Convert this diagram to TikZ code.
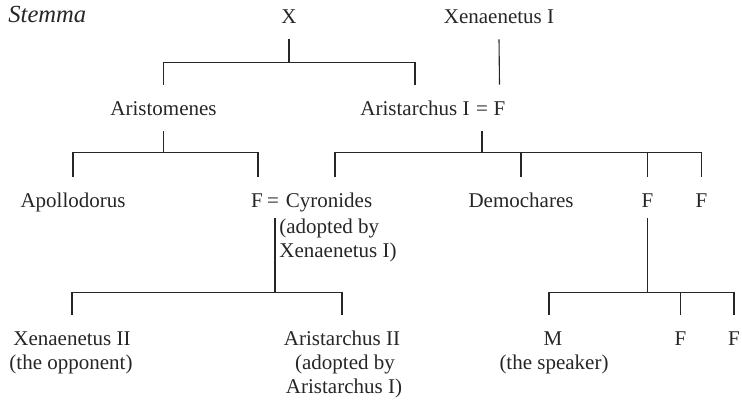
\documentclass[tikz,border=0pt]{standalone}
\usepackage{fontspec}
\setmainfont{Liberation Serif}
\begin{document}
\begin{tikzpicture}[x=0.5pt,y=-0.5pt,
  every node/.style={font=\fontsize{10.5}{12}\selectfont,text=black!85},
  person/.style={anchor=base,text height=7pt,text depth=0pt,inner xsep=0pt,inner ysep=8pt},
  note/.style={anchor=base,inner sep=0pt},
  kin/.style={draw=black!85,line width=0.55pt}]
  \useasboundingbox (0,0) rectangle (742,409);
  \node[anchor=base west,inner sep=0pt,font=\fontsize{12.3}{14}\selectfont\itshape] (stemma) at (8,22) {Stemma};
  % first two generations
  \node[person] (x) at (289,23) {X};
  \node[person] (xenI) at (499,23) {Xenaenetus I};
  \node[person] (aristomenes) at (163.5,115) {Aristomenes};
  \node[person] (ariI) at (415,115) {Aristarchus I};
  \node[person] (eqa) at (482,115) {=};
  \node[person] (fa) at (499.5,115) {F};
  % third generation
  \node[person] (apollodorus) at (73,207) {Apollodorus};
  \node[person] (fb) at (257,207) {F};
  \node[person] (eqb) at (273,207) {=};
  \node[person] (cyronides) at (329,207) {Cyronides};
  \node[note,anchor=base west] (cyrA) at (279,233) {(adopted by};
  \node[note,anchor=base west] (cyrB) at (279,257) {Xenaenetus I)};
  \node[person] (demochares) at (521,207) {Demochares};
  \node[person] (fc) at (647.5,207) {F};
  \node[person] (fd) at (701.5,207) {F};
  % fourth generation
  \node[person] (xenII) at (72,345) {Xenaenetus II};
  \node[note] (xenIIa) at (71,369) {(the opponent)};
  \node[person] (ariII) at (342,345) {Aristarchus II};
  \node[note] (ariIIa) at (345,369) {(adopted by};
  \node[note] (ariIIb) at (344,393) {Aristarchus I)};
  \node[person] (m) at (553,345) {M};
  \node[note] (ma) at (554,369) {(the speaker)};
  \node[person] (fe) at (680.5,345) {F};
  \node[person] (ff) at (734,345) {F};

  % descent lines
  \path (x.south) ++(0,23) coordinate (xjoin);
  \draw[kin] (x.south) -- (xjoin);
  \draw[kin] (aristomenes.north) |- (xjoin) -| (ariI.north);
  \draw[kin] (xenI.south) -- (fa.north);

  \path (aristomenes.south) ++(0,21) coordinate (amjoin);
  \draw[kin] (aristomenes.south) -- (amjoin);
  \draw[kin] (apollodorus.north) |- (amjoin) -| ([xshift=0.5pt]fb.north);

  \path (eqa.south) ++(0,21) coordinate (aijoin);
  \draw[kin] (eqa.south) -- (aijoin);
  \draw[kin] ([xshift=3pt]cyronides.north) |- (aijoin) -| (fd.north);
  \draw[kin] (demochares.north) -- (demochares.north |- aijoin);
  \draw[kin] (fc.north) -- (fc.north |- aijoin);

  \path ([xshift=1pt,yshift=2.5pt]eqb.south) ++(0,74) coordinate (cyjoin);
  \draw[kin] ([xshift=1pt,yshift=2.5pt]eqb.south) -- (cyjoin);
  \draw[kin] (xenII.north) |- (cyjoin) -| (ariII.north);

  \path ([yshift=2.5pt]fc.south) ++(0,74) coordinate (fcjoin);
  \draw[kin] ([yshift=2.5pt]fc.south) -- (fcjoin);
  \draw[kin] ([xshift=-2pt]m.north) |- (fcjoin) -| (ff.north);
  \draw[kin] (fe.north) -- (fe.north |- fcjoin);
\end{tikzpicture}
\end{document}
